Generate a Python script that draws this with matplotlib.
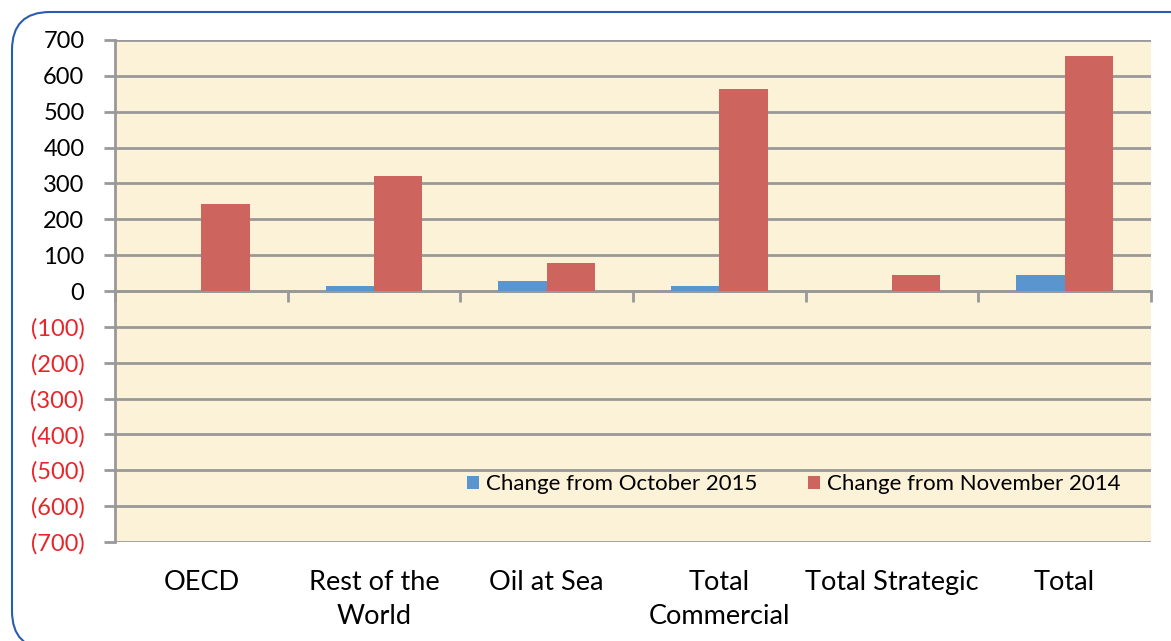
import matplotlib.pyplot as plt
from matplotlib.patches import FancyBboxPatch
import numpy as np

# categories and values
categories = ["OECD", "Rest of the\nWorld", "Oil at Sea", "Total\nCommercial",
              "Total Strategic", "Total"]
chg_oct_2015 = [0, 14, 28, 14, 0, 44]
chg_nov_2014 = [243, 321, 77, 562, 44, 655]
series_names = ["Change from October 2015", "Change from November 2014"]
yticks = list(range(-700, 701, 100))

plt.rcParams['font.family'] = ['Lato', 'DejaVu Sans']

fig = plt.figure(figsize=(11.71, 6.41), dpi=100)
ax = fig.add_axes([115 / 1171, 99 / 641, 1036 / 1171, 502 / 641])
ax.set_facecolor('#FBF2D8')

x = np.arange(len(categories))
w = 0.28
ax.bar(x - w / 2, chg_oct_2015, w, color='#5B95D0', label=series_names[0], zorder=3)
ax.bar(x + w / 2, chg_nov_2014, w, color='#CD645E', label=series_names[1], zorder=3)

ax.set_xlim(-0.5, len(categories) - 0.5)
ax.set_ylim(-700, 700)

# y axis
ax.set_yticks(yticks)
labels = [str(v) if v >= 0 else "(%d)" % (-v) for v in yticks]
ax.set_yticklabels(labels, fontsize=17)
for lab, v in zip(ax.get_yticklabels(), yticks):
    lab.set_color('#E8262A' if v < 0 else 'black')
ax.tick_params(axis='y', length=8, width=2, color='#999999', pad=14)
ax.yaxis.grid(True, color='#999999', linewidth=2, zorder=1)
ax.set_axisbelow(True)

for s in ['top', 'right']:
    ax.spines[s].set_visible(False)
ax.spines['left'].set_color('#999999')
ax.spines['left'].set_linewidth(2)
ax.spines['bottom'].set_position(('data', 0))
ax.spines['bottom'].set_color('#999999')
ax.spines['bottom'].set_linewidth(2)

# x ticks at category boundaries, labels below the plot
ax.set_xticks(np.arange(-0.5, len(categories), 1.0))
ax.set_xticklabels([])
ax.tick_params(axis='x', length=8, width=2, color='#999999', direction='out')
for i, c in enumerate(categories):
    ax.text(i, -0.055, c, transform=ax.get_xaxis_transform(), ha='center',
            va='top', fontsize=19.5, linespacing=1.45)

leg = ax.legend(loc='lower right', bbox_to_anchor=(0.99, 0.055), ncol=2, frameon=False,
                fontsize=16, handlelength=0.55, handleheight=0.55, handletextpad=0.3,
                columnspacing=2.3)

# rounded blue frame around the whole chart
frame = FancyBboxPatch((0.12, -0.08), 12.5, 6.37, boxstyle="round,pad=0,rounding_size=0.38",
                       transform=fig.dpi_scale_trans, facecolor='none',
                       edgecolor='#2A5DB0', linewidth=1.5, clip_on=False)
fig.patches.append(frame)

fig.savefig('out.png', dpi=100)
